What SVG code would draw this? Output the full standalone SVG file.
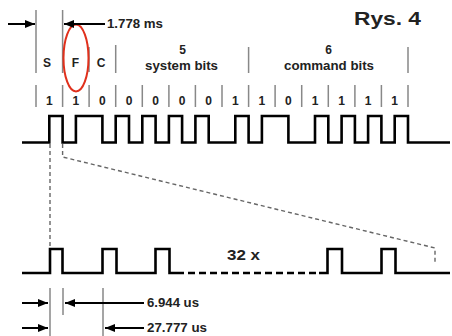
<svg xmlns="http://www.w3.org/2000/svg" width="452" height="336" viewBox="0 0 452 336">
<style>
text{font-family:"Liberation Sans",Arial,sans-serif;font-weight:bold;fill:#222}
.lbl{font-size:12px}
.bit{font-size:12px;text-anchor:middle}
.hdr{font-size:12px;text-anchor:middle}
.sep{stroke:#888;stroke-width:1.5;fill:none}
.wave{stroke:#000;stroke-width:2.6;fill:none;stroke-linejoin:miter}
.guide{stroke:#666;stroke-width:1.4;fill:none;stroke-dasharray:4 3}
.dim{stroke:#000;stroke-width:2;fill:none}
</style>
<defs>
<marker id="ah" viewBox="0 0 10 8" refX="10" refY="4" markerWidth="10" markerHeight="8" markerUnits="userSpaceOnUse" orient="auto"><path d="M0,0 L10,4 L0,8 z" fill="#000"/></marker>
</defs>
<rect width="452" height="336" fill="#fff"/>
<g id="title"><text x="354" y="25" style="font-size:19px" textLength="67" lengthAdjust="spacingAndGlyphs" fill="#000">Rys. 4</text></g>
<g id="header">
<path class="sep" d="M36,10V73 M62.6,10V73 M89,47V72 M115.7,45V73 M248.6,47V73 M408,47V73"/>
<text class="hdr" x="47" y="67">S</text>
<text class="hdr" x="75.5" y="67">F</text>
<text class="hdr" x="101" y="67">C</text>
<text class="hdr" x="182.5" y="54">5</text>
<text class="hdr" x="181.5" y="70" textLength="73" lengthAdjust="spacingAndGlyphs">system bits</text>
<text class="hdr" x="328.5" y="54">6</text>
<text class="hdr" x="329" y="70" textLength="90" lengthAdjust="spacingAndGlyphs">command bits</text>
</g>
<g id="marker-F"><ellipse cx="76" cy="58" rx="12.5" ry="33.5" fill="none" stroke="#e0301c" stroke-width="2"/></g>
<g id="bits">
<path class="sep" d="M36,85V107 M62.6,85V107 M89.1,85V107 M115.7,85V107 M142.3,85V107 M168.9,85V107 M195.4,85V107 M222,85V107 M248.6,85V107 M275.1,85V107 M301.7,85V107 M328.3,85V107 M354.9,85V107 M381.4,85V107 M408,85V107"/>
<text class="bit" x="49.3" y="105">1</text>
<text class="bit" x="75.9" y="105">1</text>
<text class="bit" x="102.4" y="105">0</text>
<text class="bit" x="129" y="105">0</text>
<text class="bit" x="155.6" y="105">0</text>
<text class="bit" x="182.1" y="105">0</text>
<text class="bit" x="208.7" y="105">0</text>
<text class="bit" x="235.3" y="105">1</text>
<text class="bit" x="261.9" y="105">1</text>
<text class="bit" x="288.4" y="105">0</text>
<text class="bit" x="315" y="105">1</text>
<text class="bit" x="341.6" y="105">1</text>
<text class="bit" x="368.1" y="105">1</text>
<text class="bit" x="394.7" y="105">1</text>
</g>
<g id="waveform-top"><path class="wave" d="M22,142.5H49.3V116H62.6V142.5H75.9V116H102.4V142.5H115.7V116H129V142.5H142.3V116H155.6V142.5H168.9V116H182.1V142.5H195.4V116H208.7V142.5H235.3V116H248.6V142.5H261.9V116H288.4V142.5H315V116H328.3V142.5H341.6V116H354.9V142.5H368.1V116H381.4V142.5H394.7V116H408V142.5H450"/></g>
<g id="waveform-bottom">
<path class="wave" d="M22,273H50V249H62.5V273H102.5V249H116.5V273H155.5V249H169.5V273H177"/>
<path class="wave" d="M177,273H319" stroke-dasharray="7 4"/>
<path class="wave" d="M319,273H327.5V249H342V273H381.5V249H395.5V273H450"/>
<text x="227" y="260" style="font-size:15px" textLength="33" lengthAdjust="spacingAndGlyphs">32 x</text>
</g>
<g id="connectors">
<path class="guide" d="M50,144V248"/>
<path class="guide" d="M62.6,144V157L435,248V262"/>
<path class="dim" d="M8,24H35" marker-end="url(#ah)"/>
<path class="dim" d="M105,24H64" marker-end="url(#ah)"/>
<path class="sep" d="M50,288V336 M63,288V315 M103,288V336"/>
<path class="dim" d="M22,303H48" marker-end="url(#ah)"/>
<path class="dim" d="M144,303H65" marker-end="url(#ah)"/>
<path class="dim" d="M22,328H48" marker-end="url(#ah)"/>
<path class="dim" d="M144,328H105" marker-end="url(#ah)"/>
</g>
<g id="labels">
<text class="lbl" x="107" y="28" textLength="56" lengthAdjust="spacingAndGlyphs">1.778 ms</text>
<text class="lbl" x="147" y="307" textLength="52" lengthAdjust="spacingAndGlyphs">6.944 us</text>
<text class="lbl" x="147" y="332" textLength="60" lengthAdjust="spacingAndGlyphs">27.777 us</text>
</g>
</svg>
